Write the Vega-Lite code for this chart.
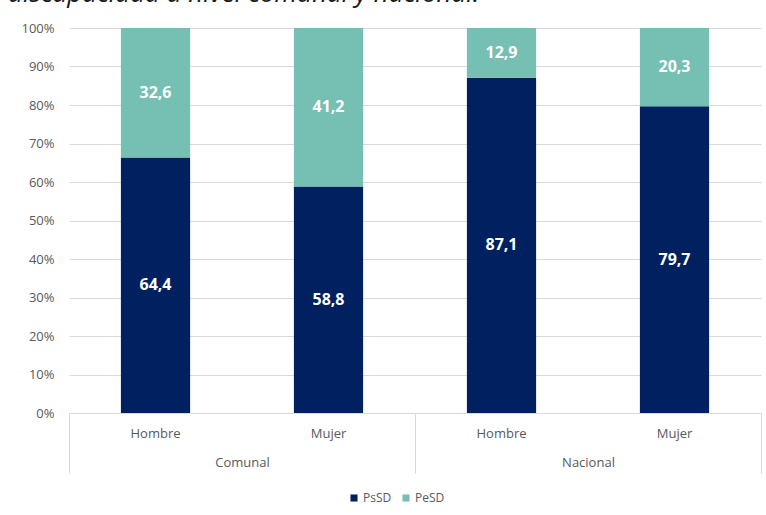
{
  "$schema": "https://vega.github.io/schema/vega-lite/v6.json",
  "width": 692,
  "height": 385,
  "autosize": {"type": "none"},
  "padding": {"left": 69, "top": 28, "right": 5, "bottom": 102},
  "background": "white",
  "title": {
    "text": "discapacidad a nivel comunal y nacional.",
    "anchor": "start",
    "frame": "group",
    "dx": -61,
    "offset": -6,
    "baseline": "alphabetic",
    "font": "Open Sans",
    "fontStyle": "italic",
    "fontWeight": "normal",
    "fontSize": 26,
    "color": "#1a1a1a"
  },
  "config": {
    "view": {"stroke": null},
    "locale": {"number": {"decimal": ",", "thousands": ".", "grouping": [3], "currency": ["", ""]}},
    "axis": {"labelFont": "Open Sans", "labelColor": "#595959", "labelFontSize": 13}
  },
  "data": {
    "values": [
      {"ambito": "Comunal", "sexo": "Hombre", "grupo": "Comunal Hombre", "tipo": "PsSD", "valor": 64.4},
      {"ambito": "Comunal", "sexo": "Hombre", "grupo": "Comunal Hombre", "tipo": "PeSD", "valor": 32.6},
      {"ambito": "Comunal", "sexo": "Mujer", "grupo": "Comunal Mujer", "tipo": "PsSD", "valor": 58.8},
      {"ambito": "Comunal", "sexo": "Mujer", "grupo": "Comunal Mujer", "tipo": "PeSD", "valor": 41.2},
      {"ambito": "Nacional", "sexo": "Hombre", "grupo": "Nacional Hombre", "tipo": "PsSD", "valor": 87.1},
      {"ambito": "Nacional", "sexo": "Hombre", "grupo": "Nacional Hombre", "tipo": "PeSD", "valor": 12.9},
      {"ambito": "Nacional", "sexo": "Mujer", "grupo": "Nacional Mujer", "tipo": "PsSD", "valor": 79.7},
      {"ambito": "Nacional", "sexo": "Mujer", "grupo": "Nacional Mujer", "tipo": "PeSD", "valor": 20.3}
    ]
  },
  "layer": [
    {
      "encoding": {
        "x": {
          "field": "grupo",
          "type": "nominal",
          "sort": null,
          "scale": {"paddingInner": 0.6, "paddingOuter": 0.3},
          "axis": {
            "orient": "bottom",
            "title": null,
            "labelExpr": "split(datum.label, ' ')[1]",
            "ticks": false,
            "domain": false,
            "grid": false,
            "labelAngle": 0,
            "labelPadding": 14
          }
        },
        "y": {
          "field": "valor",
          "type": "quantitative",
          "stack": "normalize",
          "axis": {
            "title": null,
            "values": [0, 0.1, 0.2, 0.3, 0.4, 0.5, 0.6, 0.7, 0.8, 0.9, 1],
            "format": ".0%",
            "domain": false,
            "ticks": false,
            "grid": true,
            "gridColor": "#d9d9d9",
            "labelPadding": 15
          }
        },
        "order": {"field": "tipo", "sort": "descending"}
      },
      "layer": [
        {
          "mark": {"type": "bar"},
          "encoding": {
            "color": {
              "field": "tipo",
              "type": "nominal",
              "scale": {"domain": ["PsSD", "PeSD"], "range": ["#002060", "#76BFB3"]},
              "legend": {
                "orient": "none",
                "legendX": 279,
                "legendY": 464,
                "direction": "horizontal",
                "title": null,
                "symbolType": "square",
                "symbolSize": 50,
                "symbolStrokeWidth": 0,
                "labelFont": "Open Sans",
                "labelFontSize": 12,
                "labelColor": "#595959",
                "columnPadding": 8,
                "labelOffset": 3
              }
            }
          }
        },
        {
          "mark": {"type": "text", "color": "white", "font": "Open Sans", "fontWeight": "bold", "fontSize": 16, "baseline": "middle"},
          "encoding": {
            "y": {"field": "valor", "type": "quantitative", "stack": "normalize", "bandPosition": 0.5},
            "text": {"field": "valor", "type": "quantitative", "format": ".1f"}
          }
        }
      ]
    },
    {
      "mark": {"type": "rule", "opacity": 0},
      "encoding": {
        "x": {
          "field": "ambito",
          "type": "nominal",
          "sort": null,
          "scale": {"paddingInner": 0, "paddingOuter": 0},
          "axis": {
            "orient": "bottom",
            "title": null,
            "domain": false,
            "grid": false,
            "ticks": true,
            "tickBand": "extent",
            "tickSize": 60,
            "tickColor": "#d9d9d9",
            "tickWidth": 1,
            "labelAngle": 0,
            "labelPadding": -17
          }
        }
      }
    }
  ],
  "resolve": {"scale": {"x": "independent"}, "axis": {"x": "independent"}}
}
